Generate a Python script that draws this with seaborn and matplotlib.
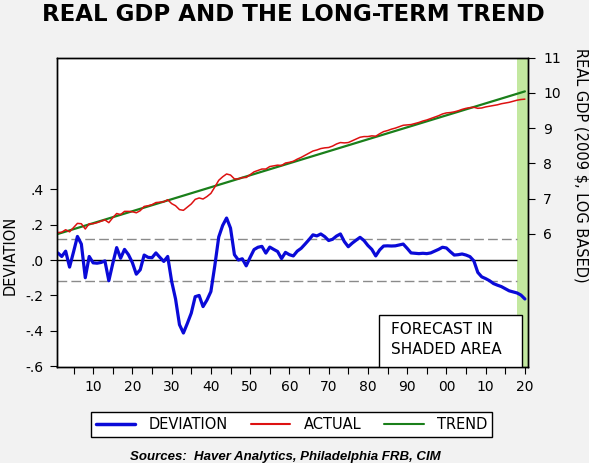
import numpy as np
import pandas as pd
import matplotlib
matplotlib.use("Agg")
import matplotlib.pyplot as plt
import seaborn as sns
from matplotlib.lines import Line2D
from matplotlib.patches import Rectangle

# ==========================
#  Data
# ==========================
years = list(range(1901, 2021))

deviation = [
    0.04, 0.02, 0.05, -0.04, 0.045, 0.133, 0.09, -0.10, 0.02, -0.016,
    -0.018, -0.014, -0.005, -0.117, -0.02, 0.07, 0.01, 0.06, 0.03, -0.015,
    -0.08, -0.055, 0.028, 0.015, 0.013, 0.04, 0.015, -0.008, 0.02, -0.12,
    -0.22, -0.365, -0.412, -0.358, -0.30, -0.207, -0.20, -0.263, -0.226, -0.178,
    -0.032, 0.13, 0.195, 0.237, 0.18, 0.03, 0.0, 0.007, -0.033, 0.015,
    0.059, 0.072, 0.077, 0.039, 0.073, 0.06, 0.048, 0.008, 0.043, 0.03,
    0.023, 0.05, 0.066, 0.09, 0.115, 0.142, 0.136, 0.147, 0.132, 0.11,
    0.117, 0.135, 0.147, 0.104, 0.075, 0.095, 0.112, 0.128, 0.11, 0.082,
    0.06, 0.023, 0.057, 0.079, 0.08, 0.079, 0.08, 0.085, 0.09, 0.066,
    0.04, 0.038, 0.036, 0.038, 0.036, 0.04, 0.05, 0.06, 0.072, 0.068,
    0.047, 0.028, 0.03, 0.034, 0.028, 0.019, -0.005, -0.07, -0.095, -0.105,
    -0.117, -0.133, -0.142, -0.15, -0.162, -0.174, -0.18, -0.186, -0.198, -0.22,
]

actual = [
    6.04, 6.05, 6.12, 6.06, 6.18, 6.30, 6.29, 6.14, 6.29, 6.29,
    6.32, 6.36, 6.40, 6.32, 6.46, 6.58, 6.55, 6.64, 6.64, 6.63,
    6.60, 6.66, 6.78, 6.80, 6.83, 6.89, 6.90, 6.91, 6.97, 6.86,
    6.80, 6.69, 6.67, 6.76, 6.85, 6.98, 7.02, 6.99, 7.06, 7.15,
    7.33, 7.52, 7.62, 7.70, 7.67, 7.56, 7.56, 7.60, 7.60, 7.68,
    7.76, 7.80, 7.84, 7.84, 7.91, 7.93, 7.95, 7.94, 8.01, 8.03,
    8.06, 8.12, 8.17, 8.23, 8.29, 8.35, 8.38, 8.42, 8.44, 8.45,
    8.49, 8.55, 8.59, 8.58, 8.59, 8.64, 8.69, 8.74, 8.76, 8.76,
    8.78, 8.77, 8.84, 8.90, 8.93, 8.97, 9.00, 9.04, 9.08, 9.09,
    9.10, 9.13, 9.16, 9.20, 9.23, 9.27, 9.31, 9.35, 9.40, 9.43,
    9.44, 9.46, 9.49, 9.53, 9.56, 9.58, 9.59, 9.56, 9.57, 9.60,
    9.62, 9.64, 9.66, 9.69, 9.71, 9.73, 9.76, 9.79, 9.81, 9.82,
]

# log-linear trend: end points of the straight line
trend_years = [1901, 2020]
trend = [6.00, 10.04]

forecast_start = 2017.9
band = 0.12

left_ticks = [-0.6, -0.4, -0.2, 0.0, 0.2, 0.4]
left_labels = ["-.6", "-.4", "-.2", ".0", ".2", ".4"]
right_ticks = [6, 7, 8, 9, 10, 11]
right_labels = ["6", "7", "8", "9", "10", "11"]
x_major = list(range(1910, 2021, 10))
x_labels = ["10", "20", "30", "40", "50", "60", "70", "80", "90", "00", "10", "20"]
x_minor = list(range(1905, 2020, 10))

df = pd.DataFrame({"Year": years, "Deviation": deviation, "Actual": actual})
df_trend = pd.DataFrame({"Year": trend_years, "Trend": trend})

# ==========================
#  Visual setup
# ==========================
sns.set_theme(style="white")
plt.rcParams["font.family"] = ["DejaVu Sans"]
plt.rcParams["text.color"] = "black"
plt.rcParams["axes.labelcolor"] = "black"
plt.rcParams["xtick.color"] = "black"
plt.rcParams["ytick.color"] = "black"

BLUE = "#0a0ad8"
RED = "#dd1111"
GREEN = "#1a7f1a"
SHADE = "#c3e8a0"

fig = plt.figure(figsize=(5.89, 4.63), dpi=100, facecolor="#f2f2f2")
ax = fig.add_axes([0.0968, 0.2073, 0.7997, 0.6685])
ax.set_facecolor("white")

ax.axvspan(forecast_start, 2020.8, color=SHADE, lw=0, zorder=0)
ax.hlines(0, 1900.8, forecast_start, color="black", lw=1.0, zorder=1)
for lv in (band, -band):
    ax.hlines(lv, 1900.8, forecast_start, color="#8a8a8a", lw=1.0,
              linestyles=(0, (7, 3)), zorder=1)

sns.lineplot(data=df, x="Year", y="Deviation", ax=ax, color=BLUE, lw=2.3,
             legend=False, zorder=3)

ax.set_xlim(1900.8, 2020.8)
ax.set_ylim(-0.604, 1.143)
ax.set_yticks(left_ticks)
ax.set_yticklabels(left_labels)
ax.set_xticks(x_major)
ax.set_xticklabels(x_labels)
ax.set_xticks(x_minor, minor=True)
ax.set_xlabel("")
ax.set_ylabel("")

ax2 = ax.twinx()
sns.lineplot(data=df_trend, x="Year", y="Trend", ax=ax2, color=GREEN, lw=1.6,
             legend=False)
sns.lineplot(data=df, x="Year", y="Actual", ax=ax2, color=RED, lw=1.1,
             legend=False)
ax2.set_ylim(2.23, 11.0)
ax2.set_yticks(right_ticks)
ax2.set_yticklabels(right_labels)
ax2.set_ylabel("")
ax2.set_xlim(1900.8, 2020.8)

for a in (ax, ax2):
    for s in a.spines.values():
        s.set_color("black")
        s.set_linewidth(1.0)
    a.tick_params(axis="both", which="both", direction="out", length=5,
                  width=0.8, color="black", labelsize=10, labelcolor="black", pad=3)
ax.tick_params(axis="x", which="both", bottom=True, pad=4)
ax.tick_params(axis="y", left=True, pad=5)
ax2.tick_params(axis="y", right=True, pad=6)

# forecast box
ax2.add_patch(Rectangle((0.684, 0.0), 0.304, 0.168, transform=ax2.transAxes,
                        facecolor="white", edgecolor="black", lw=1.0, zorder=5))
ax2.text(0.709, 0.122, "FORECAST IN", transform=ax2.transAxes, fontsize=11,
         va="center", ha="left", zorder=6)
ax2.text(0.709, 0.055, "SHADED AREA", transform=ax2.transAxes, fontsize=11,
         va="center", ha="left", zorder=6)

# titles and labels
fig.text(0.498, 0.969, "REAL GDP AND THE LONG-TERM TREND", ha="center", va="center",
         fontsize=16.5, fontweight="bold")
fig.text(0.017, 0.449, "DEVIATION", rotation=90, ha="center", va="center", fontsize=10.5)
fig.text(0.986, 0.644, "REAL GDP (2009 $, LOG BASED)", rotation=270, ha="center",
         va="center", fontsize=10.5)
fig.text(0.484, 0.012, "Sources:  Haver Analytics, Philadelphia FRB, CIM", ha="center",
         va="center", fontsize=9.5, fontweight="bold", fontstyle="italic",
         family=["Liberation Sans", "DejaVu Sans"])

handles = [Line2D([], [], color=BLUE, lw=2.5),
           Line2D([], [], color=RED, lw=1.5),
           Line2D([], [], color=GREEN, lw=1.5)]
leg = fig.legend(handles, ["DEVIATION", "ACTUAL", "TREND"], loc="center",
                 bbox_to_anchor=(0.495, 0.084), ncol=3, fontsize=10.5,
                 frameon=True, fancybox=False, edgecolor="black", framealpha=1,
                 handlelength=2.7, columnspacing=1.6, handletextpad=0.9,
                 borderpad=0.35)
leg.get_frame().set_linewidth(1.0)

fig.savefig("out.png", dpi=100, facecolor=fig.get_facecolor())
